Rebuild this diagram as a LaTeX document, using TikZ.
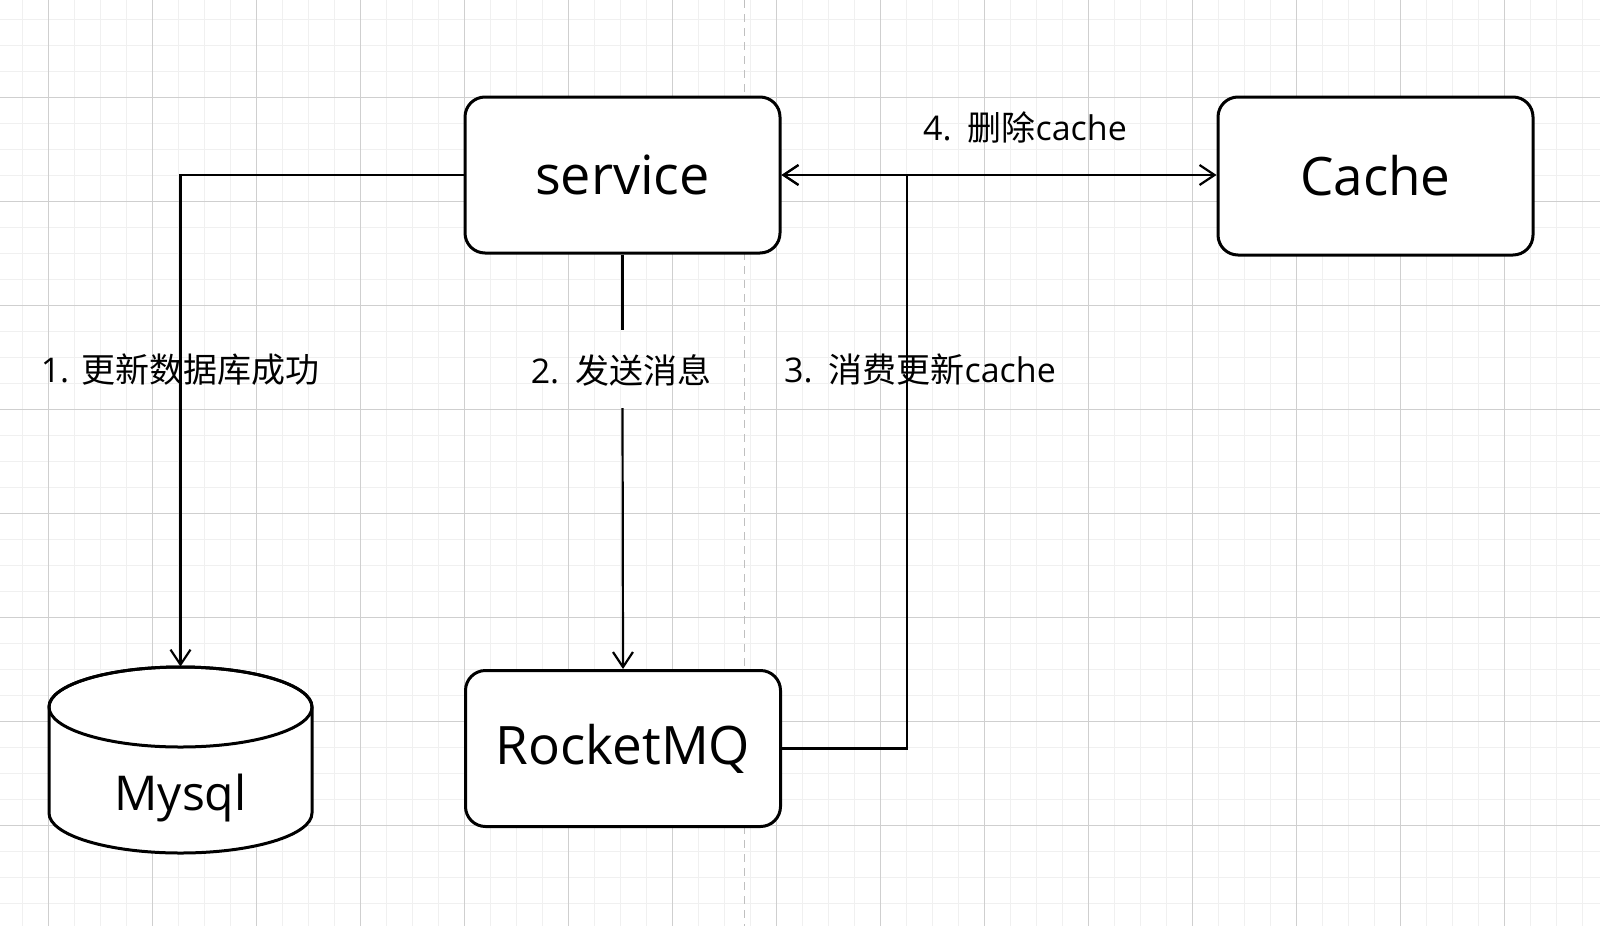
\documentclass[tikz,border=0pt]{standalone}
\usepackage{fontspec}
\setmainfont{Open Sans}
\newfontfamily\cjk{Noto Sans CJK SC}
\usetikzlibrary{arrows.meta}
\begin{document}
\begin{tikzpicture}[x=0.5pt,y=-0.5pt,
  minorgrid/.style={draw=black!6, line width=0.6pt},
  majorgrid/.style={draw=black!19, line width=0.5pt},
  guide/.style={draw=black!25, line width=0.6pt, dash pattern=on 4pt off 3pt},
  box/.style={draw, fill=white, line width=1.5pt, rounded corners=10pt,
    minimum width=157.5pt, minimum height=78pt, inner sep=0pt,
    font=\fontsize{27pt}{32pt}\selectfont},
  lbl/.style={font=\fontsize{17pt}{20pt}\selectfont, inner sep=1pt},
  conn/.style={line width=1.1pt},
  arr/.style={conn, -{Straight Barb[length=7.5pt,width=10pt,line width=1.1pt]}},
  darr/.style={conn, {Straight Barb[length=7.5pt,width=10pt,line width=1.1pt]}-{Straight Barb[length=7.5pt,width=10pt,line width=1.1pt]}}
]
\useasboundingbox (0,0) rectangle (1600,926);
\fill[white] (0,0) rectangle (1600,926);
% grid
\foreach \k in {-1,...,61} \draw[minorgrid] ({22.7+26*\k},0) -- ({22.7+26*\k},926);
\foreach \k in {-1,...,35} \draw[minorgrid] (0,{19.3+26*\k}) -- (1600,{19.3+26*\k});
\foreach \k in {0,...,15} \draw[majorgrid] ({48.7+104*\k},0) -- ({48.7+104*\k},926);
\foreach \k in {0,...,9} \draw[majorgrid] (0,{-6.7+104*\k}) -- (1600,{-6.7+104*\k});
\draw[guide] (744.7,0) -- (744.7,926);

% nodes
\node[box] (service) at (622.5,175) {service};
\node[box, minimum height=79pt, font=\fontsize{26.5pt}{31pt}\selectfont] (cache) at (1375.5,176) {Cache};
\node[box, font=\fontsize{26.5pt}{31pt}\selectfont] (rocket) at (623,748.5) {RocketMQ};
% Mysql cylinder
\node[minimum width=131.5pt, minimum height=93pt, inner sep=0pt] (mysql) at (180.5,760) {};
\filldraw[fill=white, line width=1.5pt] (49,707) -- (49,813)
  arc[start angle=180, end angle=0, x radius=131.5, y radius=40] -- (312,707)
  arc[start angle=0, end angle=-180, x radius=131.5, y radius=40] -- cycle;
\draw[line width=1.5pt] (180.5,707) ellipse [x radius=131.5, y radius=40];
\node[font=\fontsize{24pt}{28pt}\selectfont] (mysqltext) at (180.5,798) {Mysql};

% labels
\node[lbl] (l1) at (180,370) {1.\hspace{6pt}{\cjk 更新数据库成功}};
\node[lbl] (l2) at (621,370) {2.\hspace{8pt}{\cjk 发送消息}};
\node[lbl] (l3) at (920,370) {3.\hspace{8pt}{\cjk 消费更新}cache};
\node[lbl] (l4) at (1025,127) {4.\hspace{8pt}{\cjk 删除}cache};

% connectors
\draw[arr] (service.west) -| (mysql.north);
\coordinate (b2a) at (622.5,330);
\coordinate (b2b) at (622.5,408);
\draw[conn] (service.south) -- (b2a);
\draw[arr] (b2b) -- (rocket.north);
\coordinate (turn3) at (907,175);
\draw[arr] (rocket.east) -| (turn3) -- (service.east);
\draw[darr] (service.east) -- (service.east -| cache.west);
\end{tikzpicture}
\end{document}
